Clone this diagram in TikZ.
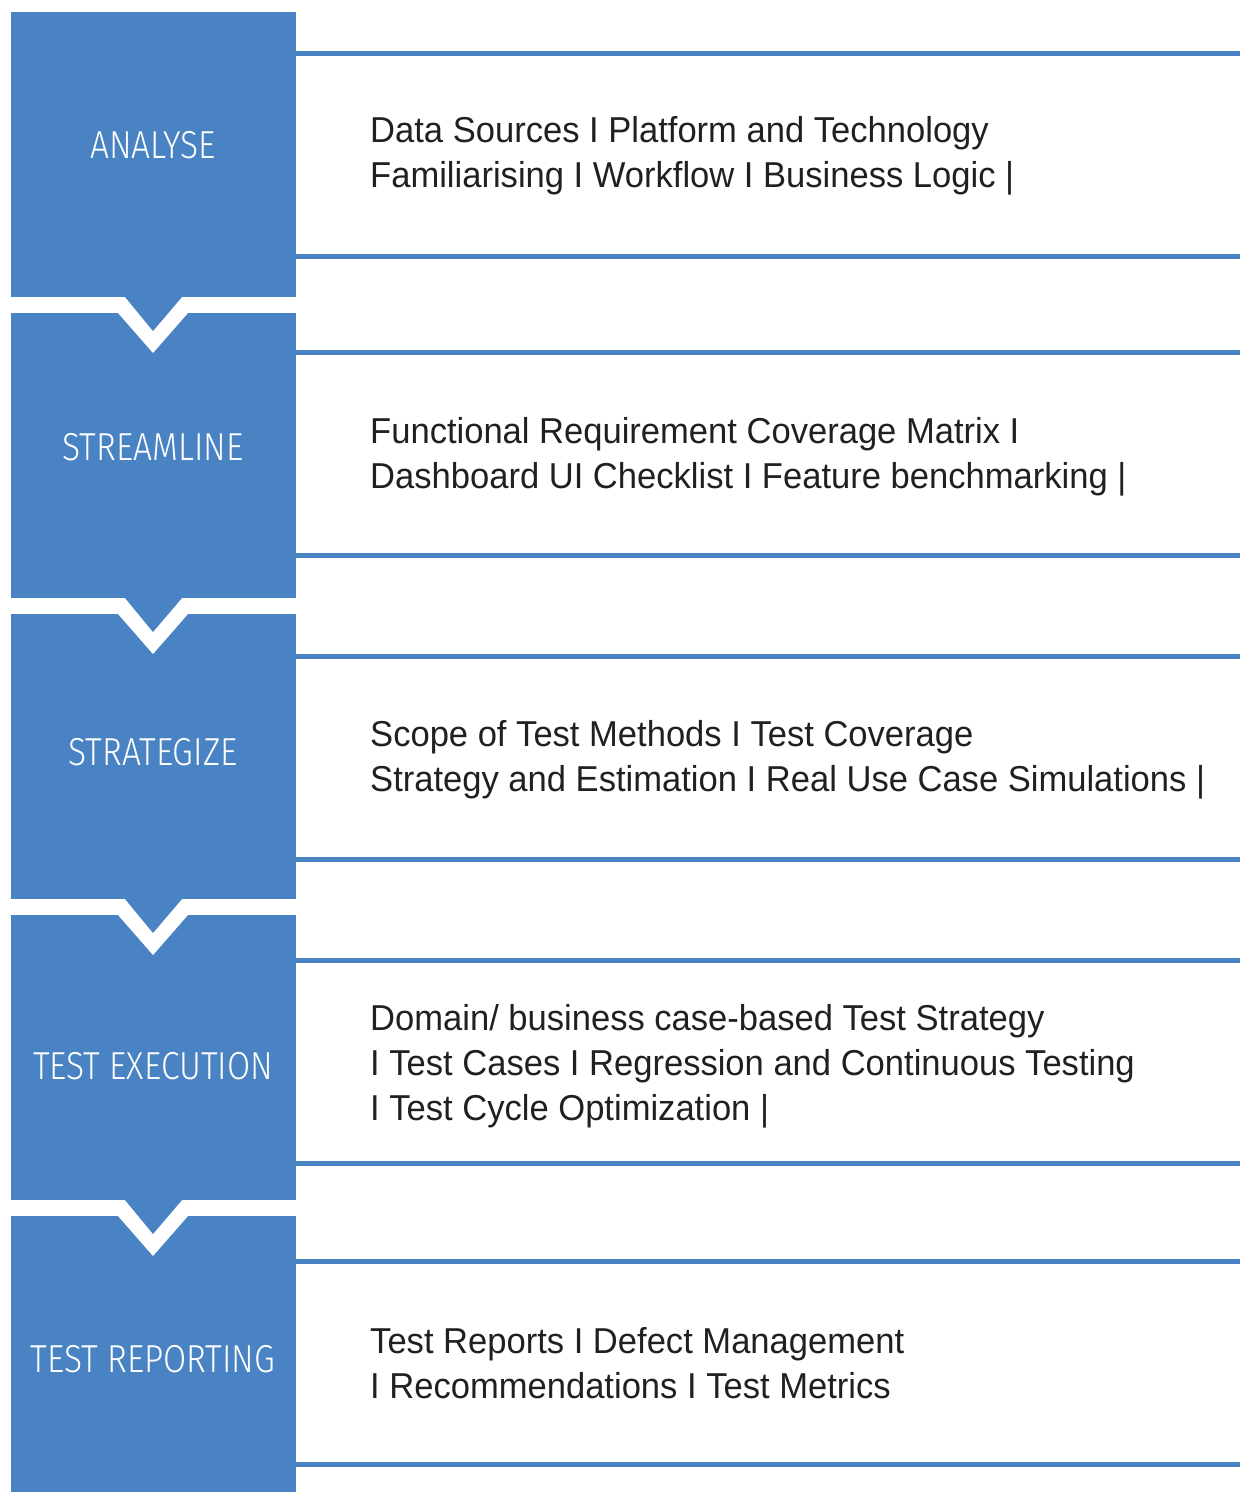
\documentclass[tikz,border=0pt]{standalone}
\usepackage{fontspec}
\setmainfont{Liberation Sans}[FakeStretch=0.96]
\newfontfamily\stagefont{Fira Sans Light}[FakeStretch=0.86]
\definecolor{stageblue}{HTML}{4A83C3}
\definecolor{bodygray}{HTML}{231F20}

\begin{document}
\begin{tikzpicture}[x=1pt,y=-1pt]
    \tikzset{
        stage/.style={anchor=base, inner sep=0pt, text=white,
            font=\stagefont\fontsize{39}{44}\selectfont},
        detail/.style={anchor=base west, align=left, inner sep=0pt, text=bodygray,
            font=\fontsize{36}{45}\selectfont},
        rule/.style={stageblue, line width=5pt}
    }
    \useasboundingbox (0,0) rectangle (1240,1492);
    % blocks
    \foreach \top/\bot in {12/297, 313/598, 614/899, 915/1200, 1216/1492} {
        \fill[stageblue] (11,\top) rectangle (296,\bot);
    }
    % the two rules beside each block
    \foreach \upper/\lower in {53/256, 352/555, 656/859, 960/1163, 1261/1464} {
        \draw[rule] (296,\upper) -- (1240,\upper);
        \draw[rule] (296,\lower) -- (1240,\lower);
    }
    % chevrons
    \foreach \bot in {297, 598, 899, 1200} {
        \fill[white] (104,\bot) -- (202,\bot) -- (153,\bot+56) -- cycle;
        \fill[stageblue] (125,\bot) -- (182,\bot) -- (153,\bot+34) -- cycle;
    }
    \node[stage] (analyse) at (153,158) {ANALYSE};
    \node[stage] (streamline) at (153,460) {STREAMLINE};
    \node[stage] (strategize) at (153,765) {STRATEGIZE};
    \node[stage] (execution) at (153,1079) {TEST EXECUTION};
    \node[stage] (reporting) at (153,1372) {TEST REPORTING};

    % base sits on the last line
    \node[detail] (analyse-text) at (370,187)
        {Data Sources I Platform and Technology\\Familiarising I Workflow I Business Logic |};
    \node[detail] (streamline-text) at (370,488)
        {Functional Requirement Coverage Matrix I\\Dashboard UI Checklist I Feature benchmarking |};
    \node[detail] (strategize-text) at (370,791)
        {Scope of Test Methods I Test Coverage\\Strategy and Estimation I Real Use Case Simulations |};
    \node[detail] (execution-text) at (370,1120)
        {Domain/ business case-based Test Strategy\\I Test Cases I Regression and Continuous Testing\\I Test Cycle Optimization |};
    \node[detail] (reporting-text) at (370,1398)
        {Test Reports I Defect Management\\I Recommendations I Test Metrics};
\end{tikzpicture}
\end{document}
